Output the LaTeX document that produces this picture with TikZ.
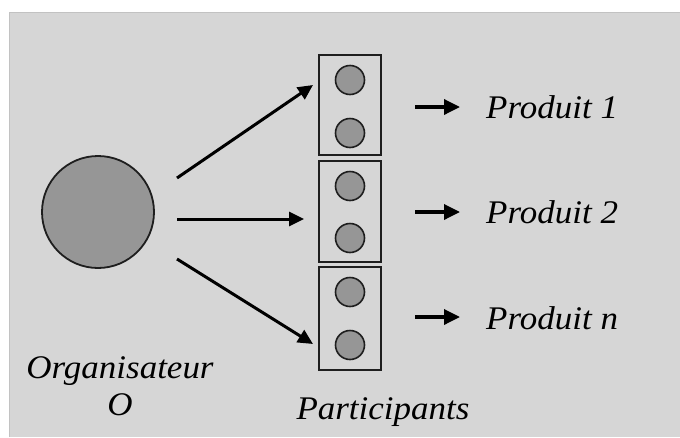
\documentclass[tikz,border=0pt]{standalone}
\usepackage{fontspec}
\setmainfont{Liberation Serif}
\usetikzlibrary{arrows.meta}
\definecolor{bgc}{HTML}{D6D6D6}
\definecolor{bgl}{HTML}{C2C2C2}
\definecolor{fillc}{HTML}{969696}
\definecolor{linec}{HTML}{1E1E1E}
\begin{document}
\begin{tikzpicture}[x=1pt,y=-1pt,
  bigc/.style={circle,draw=linec,line width=1.8pt,fill=fillc,minimum size=112pt,inner sep=0},
  smallc/.style={circle,draw=linec,line width=1.6pt,fill=fillc,minimum size=29pt,inner sep=0},
  pbox/.style={rectangle,draw=linec,line width=1.4pt,minimum width=62pt,inner sep=0},
  conn/.style={line width=3pt,-{Triangle[length=15pt,width=14pt]}},
  sconn/.style={line width=3.4pt,-{Triangle[length=16pt,width=15pt]}},
  lbl/.style={font=\fontsize{33}{37}\selectfont\itshape,inner sep=0,xscale=1.06}]
\useasboundingbox (0,0) rectangle (680,437);
\fill[white] (0,0) rectangle (680,437);
\fill[bgc] (9,12) rectangle (680,437);
\draw[bgl,line width=1pt] (9.5,437) -- (9.5,12.5) -- (680,12.5);
\node[bigc] (org) at (98,212) {};
\node[pbox,minimum height=100pt] (p1) at (350,105) {};
\node[pbox,minimum height=101pt] (p2) at (350,211.5) {};
\node[pbox,minimum height=103pt] (p3) at (350,318.5) {};
\node[smallc] (c11) at (350,80) {};
\node[smallc] (c12) at (350,133) {};
\node[smallc] (c21) at (350,186) {};
\node[smallc] (c22) at (350,238) {};
\node[smallc] (c31) at (350,292) {};
\node[smallc] (c32) at (350,345) {};
\coordinate (s1) at (177,178);
\coordinate (e1) at (313,85);
\coordinate (s2) at (177,219);
\coordinate (e2) at (304,219);
\coordinate (s3) at (177,259);
\coordinate (e3) at (313,344);
\draw[conn] (s1) -- (e1);
\draw[conn] (s2) -- (e2);
\draw[conn] (s3) -- (e3);
\node[lbl,anchor=base west] (r1) at (486,118) {Produit 1};
\node[lbl,anchor=base west] (r2) at (486,223) {Produit 2};
\node[lbl,anchor=base west] (r3) at (486,329) {Produit n};
\coordinate (t1) at (415,107);
\coordinate (t2) at (415,212);
\coordinate (t3) at (415,317);
\draw[sconn,shorten >=26pt] (t1) -- (t1 -| r1.west);
\draw[sconn,shorten >=26pt] (t2) -- (t2 -| r2.west);
\draw[sconn,shorten >=26pt] (t3) -- (t3 -| r3.west);
\node[lbl,anchor=base] (org1) at (120,378) {Organisateur};
\node[lbl,anchor=base] (org2) at (120,415) {O};
\node[lbl,anchor=base] (part) at (383,419) {Participants};
\end{tikzpicture}
\end{document}
